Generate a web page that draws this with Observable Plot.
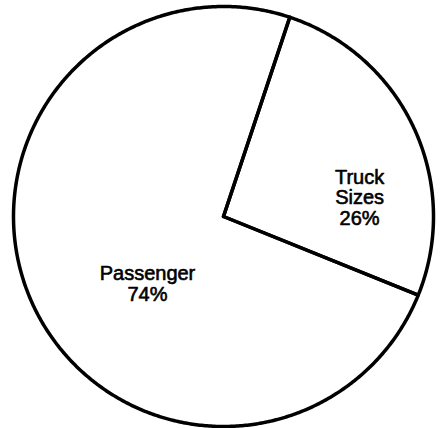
<!DOCTYPE html>
<html><head><meta charset="utf-8">
<script src="https://cdn.jsdelivr.net/npm/d3@7"></script>
<script src="https://cdn.jsdelivr.net/npm/@observablehq/plot@0.6"></script>
<style>body{margin:0;background:#fff}</style>
</head><body><div id="chart"></div>
<script>
// ---- data ----
const categories = ["Truck Sizes", "Passenger"];
const shares = [26, 74];
const labels = ["Truck\nSizes\n26%", "Passenger\n74%"];

// ---- layout (not data) ----
const startDeg = 18.4;                 // where the first slice begins, clockwise from north
const labelAnchors = [[0.648, 0.09], [-0.362, -0.321]]; // label centres in pie-radius units

const rows = categories.map((c, i) => ({
  category: c, value: shares[i], label: labels[i],
  lx: labelAnchors[i][0], ly: labelAnchors[i][1]
}));

const a0 = startDeg * Math.PI / 180;
const arcs = d3.pie().sort(null).value(d => d.value)
  .startAngle(a0).endAngle(a0 + 2 * Math.PI)(rows);

const outline = [];
arcs.forEach(a => {
  const cat = a.data.category;
  const n = Math.max(2, Math.ceil((a.endAngle - a.startAngle) / (Math.PI / 360)));
  outline.push({category: cat, x: 0, y: 0});
  for (let k = 0; k <= n; k++) {
    const t = a.startAngle + (a.endAngle - a.startAngle) * k / n;
    outline.push({category: cat, x: Math.sin(t), y: Math.cos(t)});
  }
  outline.push({category: cat, x: 0, y: 0});
});

const chart = Plot.plot({
  width: 441, height: 428, margin: 0,
  x: {domain: [-1, 1], range: [13, 433], axis: null},
  y: {domain: [-1, 1], range: [426, 6], axis: null},
  style: {fontFamily: "'Liberation Sans', Arial, sans-serif", background: "white", color: "black"},
  marks: [
    Plot.line(outline, {x: "x", y: "y", z: "category", stroke: "black",
      strokeWidth: 3.5, strokeLinejoin: "round", strokeLinecap: "round"}),
    Plot.text(rows, {x: "lx", y: "ly", text: "label", fontSize: 20,
      lineHeight: 1.02, fill: "black", stroke: "black", strokeWidth: 0.6})
  ]
});
document.getElementById("chart").append(chart);
</script>
</body></html>
